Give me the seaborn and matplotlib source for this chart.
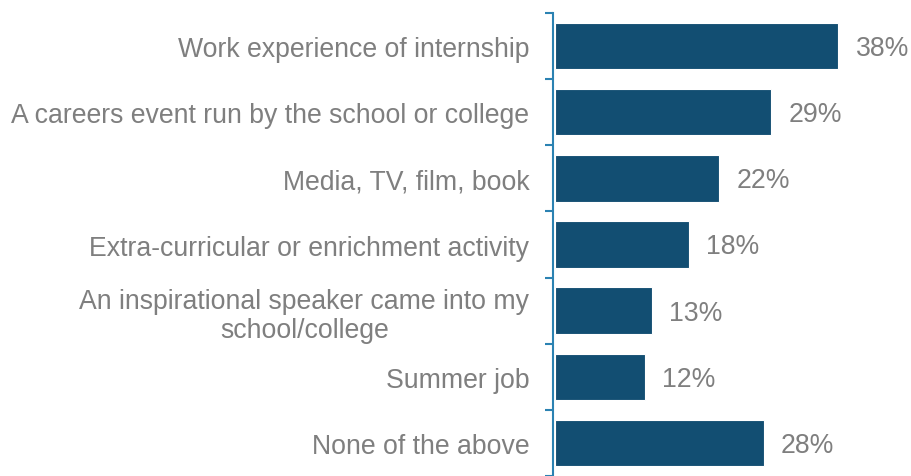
import matplotlib
matplotlib.use("Agg")
import matplotlib.pyplot as plt
import seaborn as sns
import pandas as pd
import numpy as np

categories = [
    "Work experience of internship",
    "A careers event run by the school or college",
    "Media, TV, film, book",
    "Extra-curricular or enrichment activity",
    "An inspirational speaker came into my\nschool/college",
    "Summer job",
    "None of the above",
]
values = [38, 29, 22, 18, 13, 12, 28]
value_labels = ["38%", "29%", "22%", "18%", "13%", "12%", "28%"]

sns.set_theme(style="white")
plt.rcParams["font.family"] = ["Liberation Sans", "DejaVu Sans"]

df = pd.DataFrame({"category": categories, "value": values})

fig = plt.figure(figsize=(9.11, 4.77), dpi=100)
ax = fig.add_axes([553 / 911, 0.0, 1 - 553 / 911, 1 - 14 / 477])

bar_color = "#124E72"
sns.barplot(data=df, y="category", x="value", orient="h", color=bar_color,
            saturation=1, width=0.7, edgecolor="white", linewidth=0.8, ax=ax)

ax.set_xlim(-0.3, (911 - 553) / 7.45 - 0.3)
ax.set_ylim(6.5, -0.5)
ax.set_xlabel("")
ax.set_ylabel("")
ax.set_xticks([])

for s in ["top", "right", "bottom"]:
    ax.spines[s].set_visible(False)
axis_color = "#2B82B2"
ax.spines["left"].set_color(axis_color)
ax.spines["left"].set_linewidth(1.5)
ax.spines["left"].set_position(("data", -0.3))

ax.set_yticks(np.arange(len(categories)))
ax.set_yticklabels(categories, fontsize=19.2, color="#7F7F7F")
ax.tick_params(axis="y", which="major", length=0, pad=17)
for lab in ax.get_yticklabels():
    lab.set_horizontalalignment("right")
    lab.set_multialignment("center")
    lab.set_linespacing(1.15)
ax.set_yticks(np.arange(-0.5, len(categories), 1.0), minor=True)
ax.tick_params(axis="y", which="minor", length=6, width=1.5, color=axis_color, left=True)

for i, (v, t) in enumerate(zip(values, value_labels)):
    ax.text(v + 2.3, i + 0.03, t, va="center", ha="left", fontsize=19.2, color="#7F7F7F")

fig.savefig("out.png", dpi=100)
